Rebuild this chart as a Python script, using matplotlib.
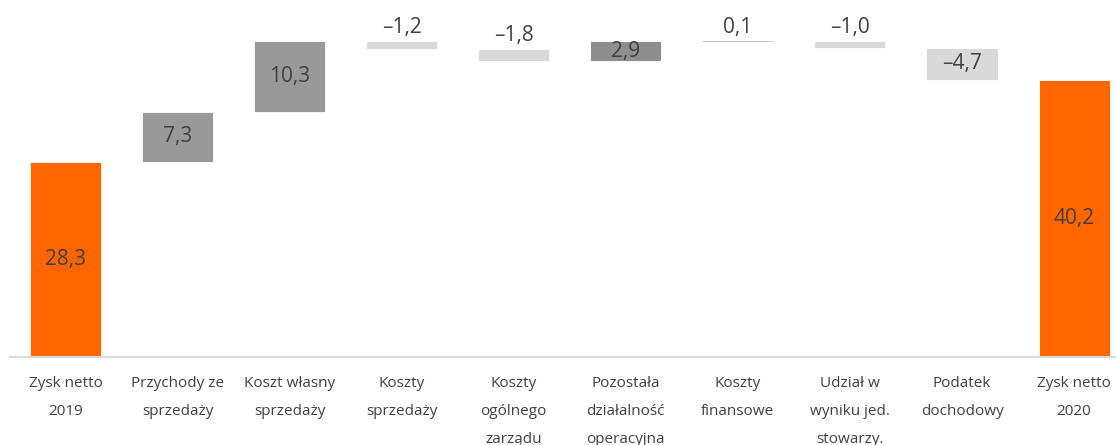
import numpy as np
import matplotlib
matplotlib.use('Agg')
import matplotlib.pyplot as plt

plt.rcParams['font.family'] = ['Open Sans', 'DejaVu Sans']

# waterfall data (PLN m)
categories = ['Zysk netto\n2019', 'Przychody ze\nsprzedaży', 'Koszt własny\nsprzedaży',
              'Koszty\nsprzedaży', 'Koszty\nogólnego\nzarządu', 'Pozostała\ndziałalność\noperacyjna',
              'Koszty\nfinansowe', 'Udział w\nwyniku jed.\nstowarzy.', 'Podatek\ndochodowy',
              'Zysk netto\n2020']
changes = [28.3, 7.3, 10.3, -1.2, -1.8, 2.9, 0.1, -1.0, -4.7, 40.2]
is_total = [True, False, False, False, False, False, False, False, False, True]

ORANGE = '#FF6600'
GRAY_UP = '#999999'
GRAY_UP2 = '#8e8e8e'
GRAY_DOWN = '#d9d9d9'
TXT = '#404040'

fig = plt.figure(figsize=(11.16, 4.45), dpi=100)
ax = fig.add_axes([9.5 / 1116, 88 / 445, 1120.6 / 1116, 357 / 445])

x = np.arange(len(categories))
running = 0.0
for i, (val, tot) in enumerate(zip(changes, is_total)):
    if tot:
        bottom, height, color = 0, val, ORANGE
        running = val
    else:
        bottom = running if val >= 0 else running + val
        height = abs(val)
        running += val
        if val >= 0:
            color = GRAY_UP2 if i == 5 else GRAY_UP
        else:
            color = GRAY_DOWN
        if abs(val) < 0.5:
            color = '#bfbfbf'
    ax.bar(x[i], height, bottom=bottom, width=0.634, color=color,
           edgecolor='white' if abs(val) >= 0.5 else '#bfbfbf', linewidth=0.6)
    label = f'{val:.1f}'.replace('.', ',').replace('-', '\u2013')
    if height >= 2.5:
        ax.text(x[i], bottom + height / 2, label, ha='center', va='center',
                fontsize=15, color=TXT)
    else:
        ax.text(x[i], bottom + height + 0.4, label, ha='center', va='bottom',
                fontsize=15, color=TXT)

ax.set_xlim(-0.5, 9.5)
ax.set_ylim(0, 51.8)
ax.set_xticks(x)
ax.set_xticklabels(categories, fontsize=11, color=TXT, linespacing=2.15, va='top')
ax.tick_params(axis='x', length=0, pad=14)
ax.set_yticks([])
for s in ['top', 'right', 'left']:
    ax.spines[s].set_visible(False)
ax.spines['bottom'].set_color('#d9d9d9')
ax.spines['bottom'].set_linewidth(1.5)

fig.savefig('out.png', dpi=100)
